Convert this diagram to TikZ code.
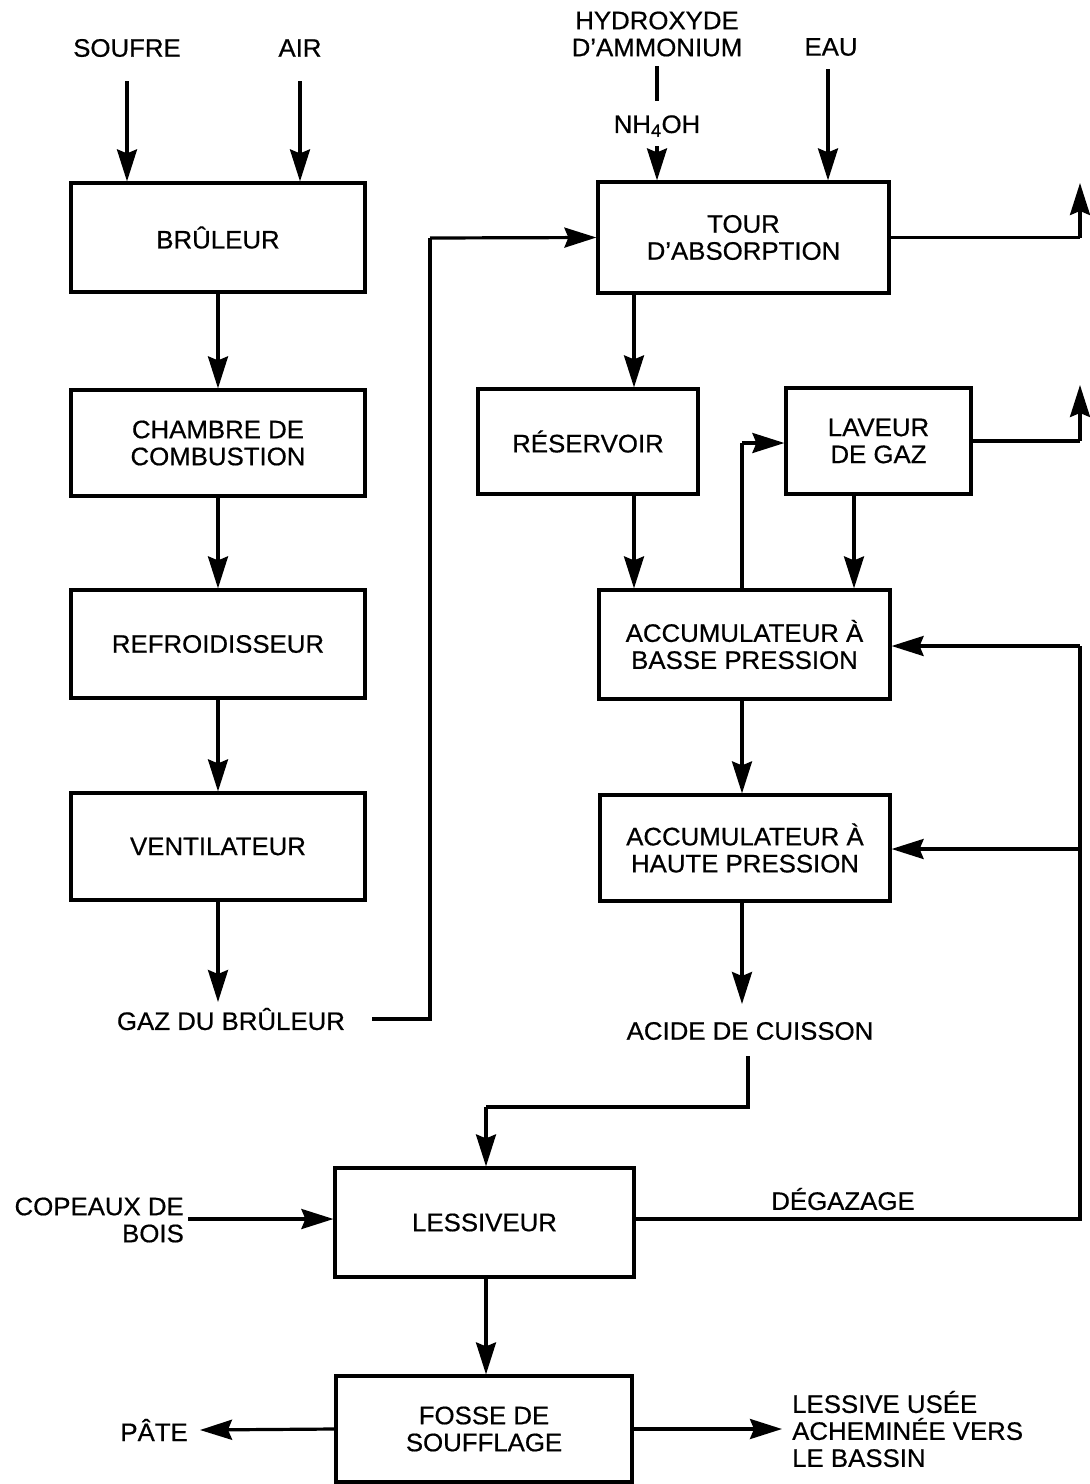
\documentclass[tikz,border=0pt]{standalone}
\usepackage{fontspec}
\setmainfont[FakeBold=0.6,FakeStretch=1.02]{Liberation Sans}
\usetikzlibrary{arrows.meta,calc}
\begin{document}
\begin{tikzpicture}[x=1pt,y=-1pt,
  every node/.style={font=\fontsize{25.3}{27}\selectfont, align=center, inner sep=0pt},
  box/.style={draw, line width=3.2pt, minimum width=#1, inner sep=0pt},
  arr/.style={line width=3.2pt, -{Stealth[length=32pt,width=20pt,inset=4pt]}},
  ln/.style={line width=3.2pt},
  lbl/.style={}]
\useasboundingbox (0,0) rectangle (1090,1484);

% left column: burner line
\node[box=294pt, minimum height=109pt] (brul) at (218,237.5) {BRÛLEUR};
\node[box=294pt, minimum height=106pt] (cham) at (218,443) {CHAMBRE DE\\COMBUSTION};
\node[box=294pt, minimum height=108pt] (refr) at (218,644) {REFROIDISSEUR};
\node[box=294pt, minimum height=107pt] (vent) at (218,846.5) {VENTILATEUR};
\node[lbl] (gaz) at (231,1019) {GAZ DU BRÛLEUR};

% right column: acid preparation
\node[box=291pt, minimum height=111pt] (tour) at (743.5,237.5) {TOUR\\D’ABSORPTION};
\node[box=220pt, minimum height=105pt] (res) at (588,441.5) {RÉSERVOIR};
\node[box=185pt, minimum height=106pt] (lav) at (878.5,441) {LAVEUR\\DE GAZ};
\node[box=291pt, minimum height=109pt] (abp) at (744.5,644.5) {ACCUMULATEUR À\\BASSE PRESSION};
\node[box=290pt, minimum height=106pt] (ahp) at (745,848) {ACCUMULATEUR À\\HAUTE PRESSION};
\node[lbl] (acide) at (750,1031) {ACIDE DE CUISSON};

% cooking and blow pit
\node[box=299pt, minimum height=109pt] (less) at (484.5,1222.5) {LESSIVEUR};
\node[box=296pt, minimum height=106pt] (fosse) at (484,1429) {FOSSE DE\\SOUFFLAGE};

% input / output labels
\node[lbl] (soufre) at (127,48) {SOUFRE};
\node[lbl] (air) at (300,48) {AIR};
\node[lbl] (hydro) at (657,34) {HYDROXYDE\\D’AMMONIUM};
\node[lbl] (nh) at (657,126) {NH\textsubscript{4}OH};
\node[lbl] (eau) at (831,47) {EAU};
\node[lbl, align=right, anchor=east] (cop) at (184,1220) {COPEAUX DE\\BOIS};
\node[lbl] (degaz) at (843,1199) {DÉGAZAGE};
\node[lbl, anchor=east] (pate) at (188,1430) {PÂTE};
\node[lbl, align=left, anchor=west] (lessive) at (792,1429) {LESSIVE USÉE\\ACHEMINÉE VERS\\LE BASSIN};

\coordinate (topout) at (1080,183);
\coordinate (lavout) at (1080,385);
\coordinate (degright) at (1080,1219);

% burner line
\draw[arr] (soufre.south |- 0,81) -- (brul.north -| soufre.south);
\draw[arr] (air.south |- 0,81) -- (brul.north -| air.south);
\draw[arr] (brul) -- (cham);
\draw[arr] (cham) -- (refr);
\draw[arr] (refr) -- (vent);
\draw[arr] (vent.south) -- (vent.south |- 0,1002);
\draw[ln] ([xshift=27pt]gaz.east) -| (430,238);
\draw[arr] (430,238) -- (tour.west);

% absorption
\draw[ln] (657,66) -- (657,101);
\draw[arr] (657,146) -- (tour.north -| 657,0);
\draw[arr] (828,69) -- (tour.north -| 828,0);
\draw[ln] (tour.east) -- (tour.east -| topout);
\draw[arr] (tour.east -| topout) -- (topout);
\draw[arr] (tour.south -| 634,0) -- (res.north -| 634,0);
\draw[arr] (res.south -| 634,0) -- (abp.north -| 634,0);
\draw[arr] (lav.south -| 854,0) -- (abp.north -| 854,0);
\draw[ln] (abp.north -| 742,0) -- (742,443);
\draw[arr] (742,443) -- (lav.west |- 0,443);
\draw[ln] (lav.east) -- (lav.east -| lavout);
\draw[arr] (lav.east -| lavout) -- (lavout);
\draw[arr] (abp.south -| 742,0) -- (ahp.north -| 742,0);
\draw[arr] (ahp.south -| 742,0) -- (742,1004);

% cooking acid to digester
\draw[ln] (748,1056) -- (748,1107) -- (486,1107);
\draw[arr] (486,1107) -- (less.north -| 486,0);
\draw[arr] ([xshift=4pt]cop.east |- 0,1219) -- (less.west |- 0,1219);
\draw[ln] (less.east |- degright) -- (degright) -- (1080,646);
\draw[arr] (1080,646) -- (abp.east |- 0,646);
\draw[arr] (1080,849) -- (ahp.east |- 0,849);
\draw[arr] (less.south -| 486,0) -- (fosse.north -| 486,0);
\draw[arr] (fosse.west) -- ([xshift=12pt]pate.east);
\draw[arr] (fosse.east) -- ([xshift=-10pt]lessive.west);
\end{tikzpicture}
\end{document}
